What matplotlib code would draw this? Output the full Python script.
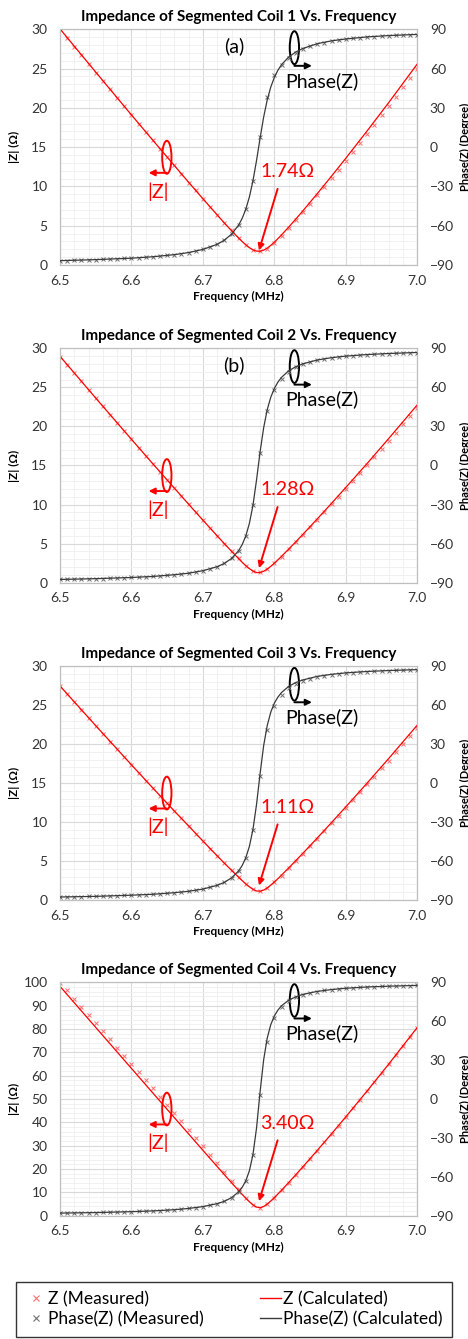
import matplotlib
matplotlib.use("Agg")
import matplotlib.pyplot as plt
from matplotlib.lines import Line2D
from matplotlib.patches import Ellipse
from matplotlib.ticker import MultipleLocator

plt.rcParams["font.family"] = ["Lato", "DejaVu Sans"]

# frequency sweep of the measured points (MHz)
FREQ_MEAS = [6.50, 6.51, 6.52, 6.53, 6.54, 6.55, 6.56, 6.57, 6.58, 6.59,
             6.60, 6.61, 6.62, 6.63, 6.64, 6.65, 6.66, 6.67, 6.68, 6.69,
             6.70, 6.71, 6.72, 6.73, 6.74, 6.75, 6.76, 6.77, 6.78, 6.79,
             6.80, 6.81, 6.82, 6.83, 6.84, 6.85, 6.86, 6.87, 6.88, 6.89,
             6.90, 6.91, 6.92, 6.93, 6.94, 6.95, 6.96, 6.97, 6.98, 6.99,
             7.00]
# frequency points of the calculated curves (denser near resonance)
FREQ_CALC = [6.50, 6.55, 6.60, 6.63, 6.66, 6.68, 6.70, 6.72, 6.73, 6.74,
             6.75, 6.755, 6.76, 6.765, 6.77, 6.775, 6.78, 6.785, 6.79, 6.795,
             6.80, 6.805, 6.81, 6.82, 6.83, 6.84, 6.86, 6.88, 6.90, 6.93,
             6.96, 7.00]

# ── coil 1 ─────────────────────────────────────────────────────────────
z1_meas = [30.0, 28.9, 27.8, 26.7, 25.6, 24.5, 23.4, 22.4, 21.3, 20.2,
           19.1, 18.0, 16.9, 15.9, 14.8, 13.7, 12.7, 11.6, 10.5, 9.5,
           8.4, 7.4, 6.4, 5.4, 4.4, 3.4, 2.6, 1.9, 1.75, 2.1,
           2.85, 3.75, 4.7, 5.7, 6.75, 7.8, 8.85, 9.95, 11.05, 12.15,
           13.3, 14.4, 15.55, 16.7, 17.85, 19.05, 20.2, 21.4, 22.6, 23.8,
           25.0]
ph1_meas = [-86.7, -86.6, -86.4, -86.3, -86.1, -85.9, -85.7, -85.5, -85.3, -85.0,
            -84.8, -84.5, -84.1, -83.7, -83.2, -82.7, -82.1, -81.4, -80.5, -79.4,
            -78.1, -76.4, -74.2, -71.0, -66.5, -59.5, -47.4, -25.8, 8.0, 38.0,
            55.0, 62.5, 68.0, 72.2, 75.0, 77.0, 78.6, 79.9, 80.9, 81.7,
            82.4, 83.0, 83.5, 84.0, 84.4, 84.8, 85.1, 85.4, 85.6, 85.8,
            86.0]
z1_calc = [30.05, 24.55, 19.10, 15.87, 12.66, 10.53, 8.43, 6.37, 5.35, 4.37,
           3.42, 2.98, 2.57, 2.21, 1.93, 1.77, 1.75, 1.89, 2.15, 2.50,
           2.91, 3.36, 3.83, 4.82, 5.85, 6.90, 9.08, 11.31, 13.59, 17.09,
           20.67, 25.59]
ph1_calc = [-86.7, -85.9, -84.8, -83.7, -82.1, -80.5, -78.1, -74.2, -71.0, -66.5,
            -59.5, -54.3, -47.4, -38.1, -25.8, -10.3, 6.9, 23.0, 36.1, 46.0,
            53.3, 58.8, 63.0, 68.8, 72.7, 75.4, 79.0, 81.2, 82.6, 84.2,
            85.2, 86.1]

# ── coil 2 ─────────────────────────────────────────────────────────────
z2_meas = [28.9, 27.9, 26.8, 25.8, 24.7, 23.6, 22.6, 21.5, 20.5, 19.4,
           18.35, 17.3, 16.25, 15.2, 14.2, 13.15, 12.1, 11.1, 10.05, 9.0,
           8.0, 7.0, 6.0, 5.0, 4.05, 3.1, 2.2, 1.5, 1.32, 1.75,
           2.48, 3.33, 4.25, 5.18, 6.12, 7.08, 8.05, 9.03, 10.02, 11.02,
           12.03, 13.04, 14.06, 15.08, 16.1, 17.13, 18.17, 19.21, 20.25, 21.3,
           22.35]
ph2_meas = [-87.5, -87.4, -87.3, -87.2, -87.0, -86.9, -86.8, -86.6, -86.4, -86.2,
            -86.0, -85.8, -85.5, -85.2, -84.8, -84.4, -83.9, -83.4, -82.7, -81.8,
            -80.8, -79.4, -77.7, -75.2, -71.4, -65.4, -54.1, -30.7, 9.5, 41.5,
            58.0, 66.8, 72.0, 75.4, 77.7, 79.4, 80.7, 81.7, 82.5, 83.2,
            83.8, 84.3, 84.7, 85.1, 85.4, 85.7, 85.9, 86.1, 86.3, 86.5,
            86.7]
z2_calc = [28.98, 23.63, 18.35, 15.21, 12.11, 10.04, 8.00, 5.99, 5.00, 4.02,
           3.07, 2.61, 2.18, 1.80, 1.49, 1.30, 1.30, 1.46, 1.75, 2.10,
           2.50, 2.93, 3.37, 4.30, 5.24, 6.20, 8.16, 10.16, 12.19, 15.28,
           18.45, 22.76]
ph2_calc = [-87.5, -86.9, -86.0, -85.2, -83.9, -82.7, -80.8, -77.7, -75.2, -71.4,
            -65.4, -60.7, -54.1, -44.5, -30.7, -11.2, 10.5, 29.0, 42.9, 52.5,
            59.2, 64.1, 67.7, 72.7, 75.9, 78.1, 81.0, 82.8, 84.0, 85.2,
            86.0, 86.8]

# ── coil 3 ─────────────────────────────────────────────────────────────
z3_meas = [27.4, 26.4, 25.4, 24.4, 23.35, 22.35, 21.3, 20.3, 19.3, 18.3,
           17.3, 16.3, 15.3, 14.35, 13.35, 12.4, 11.4, 10.45, 9.5, 8.5,
           7.55, 6.6, 5.65, 4.75, 3.8, 2.9, 2.05, 1.38, 1.13, 1.52,
           2.28, 3.14, 4.05, 4.98, 5.92, 6.88, 7.85, 8.83, 9.81, 10.8,
           11.79, 12.79, 13.8, 14.81, 15.83, 16.86, 17.88, 18.92, 19.96, 21.01,
           22.07]
ph3_meas = [-87.7, -87.6, -87.5, -87.4, -87.3, -87.2, -87.0, -86.9, -86.7, -86.5,
            -86.3, -86.1, -85.8, -85.6, -85.2, -84.9, -84.4, -83.9, -83.3, -82.5,
            -81.6, -80.3, -78.7, -76.4, -73.0, -67.6, -57.5, -35.8, 5.5, 41.0,
            59.0, 68.0, 73.2, 76.5, 78.7, 80.3, 81.5, 82.5, 83.3, 83.9,
            84.4, 84.9, 85.3, 85.6, 85.9, 86.2, 86.4, 86.6, 86.8, 86.9,
            87.1]
z3_calc = [27.44, 22.35, 17.33, 14.35, 11.41, 9.49, 7.56, 5.66, 4.73, 3.81,
           2.91, 2.48, 2.06, 1.69, 1.37, 1.16, 1.12, 1.27, 1.55, 1.91,
           2.32, 2.74, 3.19, 4.11, 5.05, 6.00, 7.95, 9.93, 11.94, 15.01,
           18.14, 22.42]
ph3_calc = [-87.7, -87.2, -86.3, -85.6, -84.4, -83.3, -81.6, -78.7, -76.4, -73.0,
            -67.6, -63.4, -57.5, -48.8, -35.8, -16.6, 7.2, 28.8, 44.2, 54.6,
            61.5, 66.1, 69.6, 74.3, 77.3, 79.3, 82.0, 83.6, 84.7, 85.8,
            86.5, 87.2]

# ── coil 4 ─────────────────────────────────────────────────────────────
z4_meas = [99.8, 96.5, 93.0, 89.5, 86.0, 82.5, 79.0, 75.5, 72.0, 68.5,
           65.0, 61.5, 58.0, 54.5, 51.0, 47.5, 44.0, 40.4, 36.9, 33.3,
           29.7, 26.1, 22.5, 18.8, 15.0, 11.3, 7.7, 4.7, 3.45, 4.9,
           7.7, 10.85, 14.15, 17.5, 20.9, 24.4, 27.9, 31.4, 35.0, 38.6,
           42.3, 46.0, 49.7, 53.5, 57.3, 61.1, 65.0, 68.8, 72.7, 76.7,
           80.6]
ph4_meas = [-88.0, -87.9, -87.9, -87.8, -87.7, -87.6, -87.5, -87.4, -87.2, -87.1,
            -86.9, -86.7, -86.5, -86.3, -86.0, -85.7, -85.4, -84.9, -84.4, -83.8,
            -83.0, -82.0, -80.7, -78.9, -76.1, -71.6, -63.1, -43.0, 3.0, 44.0,
            62.5, 71.0, 75.7, 78.5, 80.5, 81.9, 82.9, 83.7, 84.4, 84.9,
            85.4, 85.8, 86.1, 86.4, 86.6, 86.8, 87.0, 87.2, 87.3, 87.5,
            87.6]
z4_calc = [98.27, 80.68, 63.10, 52.56, 42.03, 35.02, 28.02, 21.05, 17.58, 14.14,
           10.76, 9.11, 7.50, 5.99, 4.65, 3.68, 3.42, 3.94, 4.99, 6.31,
           7.78, 9.33, 10.92, 14.20, 17.57, 20.99, 27.97, 35.09, 42.37, 53.52,
           64.96, 80.67]
ph4_calc = [-88.0, -87.6, -86.9, -86.3, -85.4, -84.4, -83.0, -80.7, -78.9, -76.1,
            -71.6, -68.1, -63.1, -55.4, -43.0, -22.5, 5.5, 30.3, 47.0, 57.4,
            64.1, 68.6, 71.9, 76.2, 78.8, 80.7, 83.0, 84.4, 85.4, 86.4,
            87.0, 87.6]

TITLES = ["Impedance of Segmented Coil %d Vs. Frequency" % i for i in (1, 2, 3, 4)]
MIN_LABELS = ["1.74\u03a9", "1.28\u03a9", "1.11\u03a9", "3.40\u03a9"]
PANEL_TAGS = ["(a)", "(b)", "", ""]
Z_MAX = [30, 30, 30, 100]
Z_STEP = [5, 5, 5, 10]

PANELS = [
    (z1_meas, ph1_meas, z1_calc, ph1_calc),
    (z2_meas, ph2_meas, z2_calc, ph2_calc),
    (z3_meas, ph3_meas, z3_calc, ph3_calc),
    (z4_meas, ph4_meas, z4_calc, ph4_calc),
]

RED = "#ff0000"
RED_MK = "#ff6f6f"
DARK = "#3a3a3a"
GRAY_MK = "#6f6f6f"
SPINE = "#bfbfbf"
TXT = "#333333"

W, H = 468, 1339
AX_LEFT, AX_RIGHT = 60, 417.3
AX_TB = [(29.3, 265.0), (348.3, 582.7), (666.0, 900.0), (982.3, 1215.7)]

fig = plt.figure(figsize=(W / 100, H / 100), dpi=100)


def draw_panel(i):
    top, bottom = AX_TB[i]
    ax = fig.add_axes([AX_LEFT / W, 1 - bottom / H,
                       (AX_RIGHT - AX_LEFT) / W, (bottom - top) / H])
    z_meas, ph_meas, z_calc, ph_calc = PANELS[i]

    ax.plot(FREQ_MEAS, z_meas, ls="none", marker="x", ms=3, mew=0.7,
            color=RED_MK, zorder=3)
    ax.plot(FREQ_CALC, z_calc, color=RED, lw=0.9, zorder=4)
    ax.set_xlim(6.5, 7.0)
    ax.set_ylim(0, Z_MAX[i])
    ax.xaxis.set_major_locator(MultipleLocator(0.1))
    ax.xaxis.set_minor_locator(MultipleLocator(0.02))
    ax.yaxis.set_major_locator(MultipleLocator(Z_STEP[i]))
    ax.yaxis.set_minor_locator(MultipleLocator(Z_STEP[i] / 5))
    ax.xaxis.set_major_formatter(plt.FormatStrFormatter("%.1f"))
    ax.grid(which="major", color="#d9d9d9", lw=0.8)
    ax.grid(which="minor", color="#efefef", lw=0.6)
    ax.set_axisbelow(True)
    ax.tick_params(which="both", length=0, labelsize=10, colors=TXT)
    ax.tick_params(axis="x", pad=7)
    ax.tick_params(axis="y", pad=9)
    for s in ax.spines.values():
        s.set_color(SPINE)
        s.set_linewidth(0.8)
    ax.set_xlabel("Frequency (MHz)", fontsize=8.5, fontweight="bold", labelpad=3)
    ax.set_ylabel("|Z| (\u03a9)", fontsize=8.5, fontweight="bold")
    ax.yaxis.set_label_coords((20 - AX_LEFT) / (AX_RIGHT - AX_LEFT), 0.5)
    ax.set_title(TITLES[i], fontsize=11, fontweight="bold", pad=6)

    ax2 = ax.twinx()
    ax2.plot(FREQ_MEAS, ph_meas, ls="none", marker="x", ms=3, mew=0.7,
             color=GRAY_MK, zorder=3)
    ax2.plot(FREQ_CALC, ph_calc, color=DARK, lw=0.9, zorder=4)
    ax2.set_ylim(-90, 90)
    ax2.yaxis.set_major_locator(MultipleLocator(30))
    ax2.tick_params(length=0, labelsize=10, colors=TXT, pad=9)
    for s in ax2.spines.values():
        s.set_color(SPINE)
        s.set_linewidth(0.8)
    ax2.set_ylabel("Phase(Z) (Degree)", fontsize=8, fontweight="bold")
    ax2.yaxis.set_label_coords((459.5 - AX_LEFT) / (AX_RIGHT - AX_LEFT), 0.5)

    # annotations (axes fractions)
    t = ax2.transAxes
    if PANEL_TAGS[i]:
        ax2.text(0.487, 0.928, PANEL_TAGS[i], transform=t, fontsize=14,
                 ha="center", va="center", color="black")
    ax2.add_patch(Ellipse((0.656, 0.922), 0.026, 0.14, transform=t,
                          fill=False, ec="black", lw=1.4))
    ax2.annotate("", xy=(0.705, 0.845), xytext=(0.656, 0.845),
                 xycoords=t, textcoords=t,
                 arrowprops=dict(arrowstyle="-|>", color="black", lw=1.4,
                                 mutation_scale=9, shrinkA=0, shrinkB=0))
    ax2.text(0.630, 0.781, "Phase(Z)", transform=t, fontsize=14,
             ha="left", va="center", color="black")

    ax2.add_patch(Ellipse((0.299, 0.457), 0.026, 0.14, transform=t,
                          fill=False, ec=RED, lw=1.4))
    ax2.annotate("", xy=(0.248, 0.391), xytext=(0.299, 0.391),
                 xycoords=t, textcoords=t,
                 arrowprops=dict(arrowstyle="-|>", color=RED, lw=1.4,
                                 mutation_scale=9, shrinkA=0, shrinkB=0))
    ax2.text(0.274, 0.312, "|Z|", transform=t, fontsize=14,
             ha="center", va="center", color=RED)

    ax2.text(0.561, 0.397, MIN_LABELS[i], transform=t, fontsize=14,
             ha="left", va="center", color=RED)
    ax2.annotate("", xy=(0.557, 0.062), xytext=(0.609, 0.323),
                 xycoords=t, textcoords=t,
                 arrowprops=dict(arrowstyle="-|>", color=RED, lw=1.4,
                                 mutation_scale=9, shrinkA=0, shrinkB=0))


for k in range(4):
    draw_panel(k)

handles = [
    Line2D([], [], ls="none", marker="x", ms=4, mew=0.8, color=RED_MK),
    Line2D([], [], ls="none", marker="x", ms=4, mew=0.8, color=GRAY_MK),
    Line2D([], [], color=RED, lw=1.0),
    Line2D([], [], color=DARK, lw=1.0),
]
labels = ["Z (Measured)", "Phase(Z) (Measured)",
          "Z (Calculated)", "Phase(Z) (Calculated)"]
leg = fig.legend(handles, labels, ncol=2, loc="lower left",
                 bbox_to_anchor=(15.7 / W, 1 - 1336.7 / H, 436 / W, 57.5 / H),
                 mode="expand", frameon=True, fancybox=False, fontsize=12.5,
                 handlelength=1.2, handletextpad=0.1, borderpad=0.55,
                 labelspacing=0.2, borderaxespad=0)
leg.get_frame().set_edgecolor("black")
leg.get_frame().set_linewidth(1.0)

fig.savefig("out.png", dpi=100)
